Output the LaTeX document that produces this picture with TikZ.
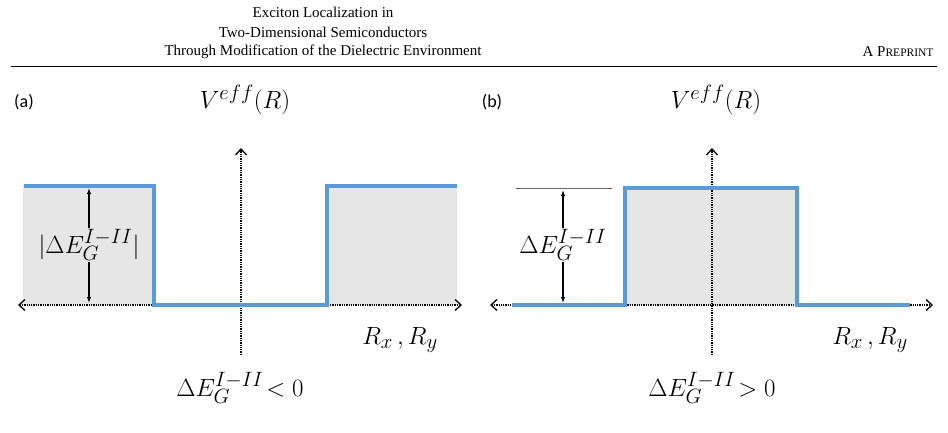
\documentclass[tikz,border=0pt]{standalone}
\usepackage{fontspec}
\setmainfont{Liberation Serif}
\newfontfamily\calib{Carlito}
\usetikzlibrary{arrows.meta}
\definecolor{bl}{RGB}{91,155,213}
\definecolor{gf}{RGB}{230,230,230}
\tikzset{
 ax/.style={densely dotted,line width=1.3pt,{Straight Barb[length=6pt,width=11pt]}-{Straight Barb[length=6pt,width=11pt]}},
 vax/.style={densely dotted,line width=1.3pt,-{Straight Barb[length=6pt,width=11pt]}},
 pot/.style={draw=bl,line width=3.5pt},
 dim/.style={{Latex[length=6pt]}-{Latex[length=6pt]},line width=1.2pt},
 mt/.style={font=\fontsize{29}{33}\selectfont},
 hd/.style={font=\fontsize{15}{17}\selectfont},
 pl/.style={font=\calib\fontsize{18}{20}\selectfont}
}
\begin{document}
\begin{tikzpicture}[x=1pt,y=-1pt]
\useasboundingbox (0,0) rectangle (948,433);
% header
\node[hd] (h1) at (323,12) {Exciton Localization in};
\node[hd] (h2) at (323,32) {Two-Dimensional Semiconductors};
\node[hd] (h3) at (323,52) {Through Modification of the Dielectric Environment};
\node[hd,anchor=east] (h4) at (937,52) {A P\fontsize{11.5}{13}\selectfont REPRINT};
\draw[line width=0.6pt] (11,66) -- (937,66);
% panel a
\fill[gf] (23,186) rectangle (154,305);
\fill[gf] (327,186) rectangle (457,305);
\node[pl] (la) at (24,102) {(a)};
\node[mt] (va) at (245,100) {$V^{eff}(R)$};
\coordinate (a1) at (18,305); \coordinate (a2) at (462,305);
\coordinate (a3) at (241,355); \coordinate (a4) at (241,148);
\draw[ax] (a1) -- (a2);
\draw[vax] (a3) -- (a4);
\draw[pot] (24,186) -- (154,186) -- (154,305) -- (327,305) -- (327,186) -- (457,186);
\coordinate (d1) at (89,188); \coordinate (d2) at (89,303);
\draw[dim] (d1) -- (d2);
\node[mt,fill=gf,inner sep=1pt] (ea) at (89,245) {$|\Delta E_G^{I-II}|$};
\node[mt] (ra) at (400,340) {$R_x\,,R_y$};
\node[mt] (ca) at (240,388) {$\Delta E_G^{I-II}\!<0$};
% panel b
\fill[gf] (625,188) rectangle (797,305);
\node[pl] (lb) at (492,102) {(b)};
\node[mt] (vb) at (716,100) {$V^{eff}(R)$};
\coordinate (b1) at (490,305); \coordinate (b2) at (933,305);
\coordinate (b3) at (712,355); \coordinate (b4) at (712,148);
\draw[ax] (b1) -- (b2);
\draw[vax] (b3) -- (b4);
\draw[pot] (512,305) -- (625,305) -- (625,188) -- (797,188) -- (797,305) -- (910,305);
\draw[gray!80!black,line width=1pt] (516,188) -- (612,188);
\coordinate (e1) at (563,190); \coordinate (e2) at (563,303);
\draw[dim] (e1) -- (e2);
\node[mt,fill=white,inner sep=1pt] (eb) at (563,245) {$\Delta E_G^{I-II}$};
\node[mt] (rb) at (870,340) {$R_x\,,R_y$};
\node[mt] (cb) at (712,388) {$\Delta E_G^{I-II}\!>0$};
\end{tikzpicture}
\end{document}
